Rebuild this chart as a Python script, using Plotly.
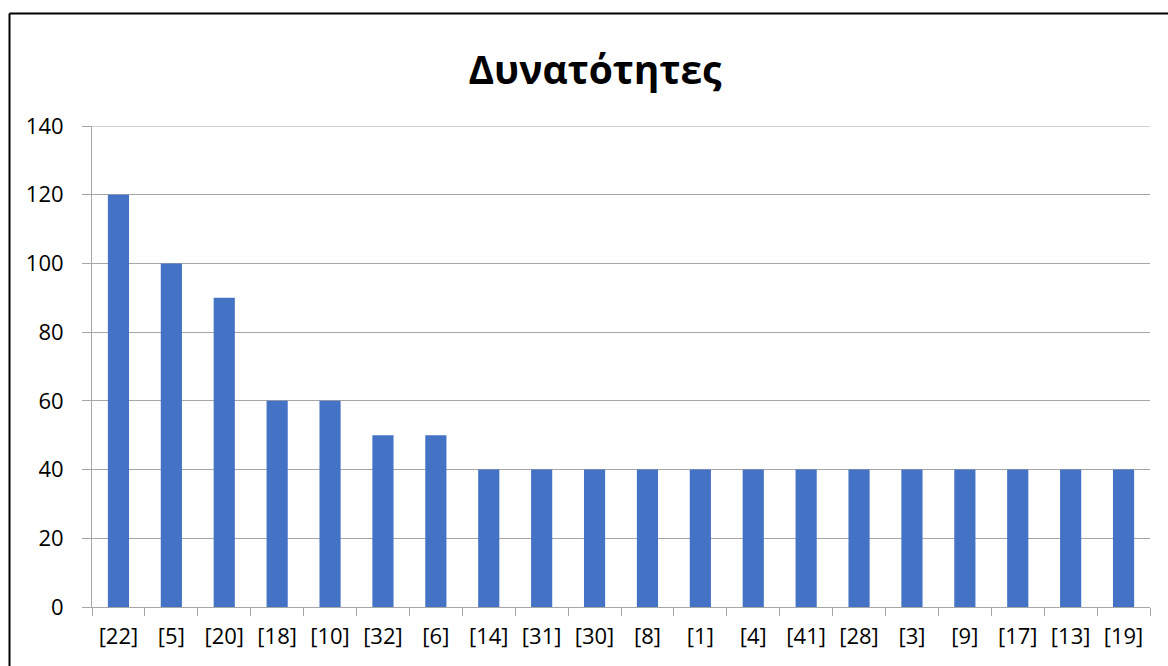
import plotly.graph_objects as go

# Category labels and counts
categories = ["[22]", "[5]", "[20]", "[18]", "[10]", "[32]", "[6]", "[14]", "[31]", "[30]",
              "[8]", "[1]", "[4]", "[41]", "[28]", "[3]", "[9]", "[17]", "[13]", "[19]"]
values = [120, 100, 90, 60, 60, 50, 50, 40, 40, 40,
          40, 40, 40, 40, 40, 40, 40, 40, 40, 40]
y_ticks = [0, 20, 40, 60, 80, 100, 120, 140]

W, H = 1168, 666
L, R, T, B = 92, 18, 126, 59
pw, ph = W - L - R, H - T - B

def px_x(x):
    return (x - L) / pw

def px_y(y):
    return (H - B - y) / ph

FONT = "Open Sans, Liberation Sans, sans-serif"
GRID = "#a6a6a6"

fig = go.Figure(go.Bar(
    x=categories, y=values,
    marker=dict(color="#4472C4", line=dict(width=0)),
))

fig.update_layout(
    width=W, height=H,
    margin=dict(l=L, r=R, t=T, b=B),
    paper_bgcolor="white", plot_bgcolor="white",
    bargap=0.6,
    showlegend=False,
    font=dict(family=FONT, color="#000000", size=22),
    title=dict(text="<b>Δυνατότητες</b>", x=595 / W, xanchor="center",
               y=1 - 70 / H, yanchor="middle",
               font=dict(family=FONT, size=39, color="#000000")),
)

fig.update_xaxes(
    type="category",
    showgrid=False,
    showline=True, linecolor=GRID, linewidth=1,
    ticks="outside", tickson="boundaries", ticklen=8, tickcolor=GRID,
    ticklabelstandoff=10,
    tickfont=dict(family=FONT, size=22, color="#000000"),
    zeroline=False,
)

fig.update_yaxes(
    range=[0, 140],
    tickvals=y_ticks,
    showgrid=True, gridcolor=GRID, gridwidth=1,
    showline=True, linecolor=GRID, linewidth=1,
    ticks="outside", ticklen=9, tickcolor=GRID,
    ticklabelstandoff=14,
    tickfont=dict(family=FONT, size=22, color="#000000"),
    zeroline=False,
)

# Top gridline at the axis maximum
fig.add_shape(type="line", xref="paper", yref="y",
              x0=0, x1=1, y0=y_ticks[-1], y1=y_ticks[-1],
              line=dict(color=GRID, width=1), layer="below")

# Chart frame (left and top edges)
fig.add_shape(type="line", xref="paper", yref="paper",
              x0=px_x(9.5), y0=px_y(13.5), x1=px_x(1200), y1=px_y(13.5),
              line=dict(color="#000000", width=2))
fig.add_shape(type="line", xref="paper", yref="paper",
              x0=px_x(9.5), y0=px_y(13.5), x1=px_x(9.5), y1=px_y(700),
              line=dict(color="#000000", width=2))

fig.write_html("out.html")
